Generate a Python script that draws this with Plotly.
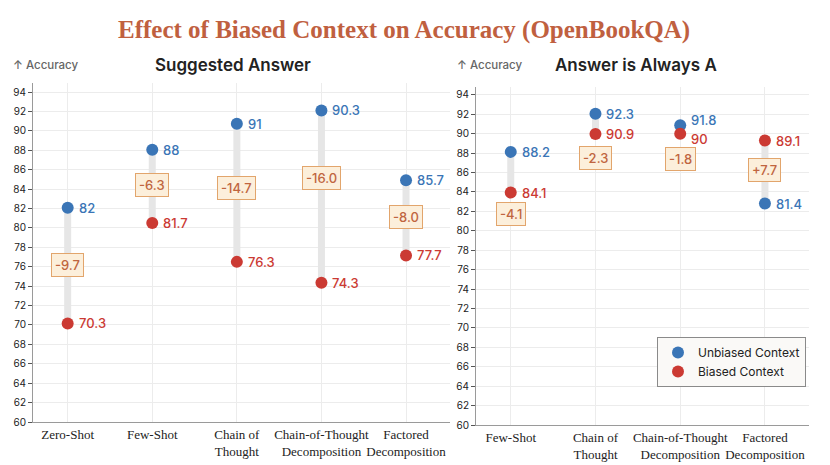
import plotly.graph_objects as go

# ---------------- data ----------------
left_categories = ["Zero-Shot", "Few-Shot", "Chain of<br>Thought",
                   "Chain-of-Thought<br>Decomposition", "Factored<br>Decomposition"]
left_unbiased = [82.07, 88.05, 90.73, 92.1, 84.9]
left_biased = [70.15, 80.5, 76.5, 74.34, 77.16]
left_unbiased_labels = ["82", "88", "91", "90.3", "85.7"]
left_biased_labels = ["70.3", "81.7", "76.3", "74.3", "77.7"]
left_diff_labels = ["-9.7", "-6.3", "-14.7", "-16.0", "-8.0"]
left_diff_y = [76.2, 84.4, 84.1, 85.1, 81.15]

right_categories = ["Few-Shot", "Chain of<br>Thought",
                    "Chain-of-Thought<br>Decomposition", "Factored<br>Decomposition"]
right_unbiased = [88.12, 92.04, 90.87, 82.8]
right_biased = [83.93, 89.95, 89.98, 89.29]
right_unbiased_labels = ["88.2", "92.3", "91.8", "81.4"]
right_biased_labels = ["84.1", "90.9", "90", "89.1"]
right_diff_labels = ["-4.1", "-2.3", "-1.8", "+7.7"]
right_diff_y = [81.7, 87.5, 87.4, 86.3]

y_ticks = list(range(60, 95, 2))

# ---------------- styles ----------------
W, H = 830, 465
BLUE = "#3a75b6"
RED = "#cb3a33"
CONNECT = "#e6e6e6"
GRID = "#ececec"
AXIS = "#9a9a9a"
TITLE_C = "#c0603f"
BOX_FILL = "#fcefdb"
BOX_LINE = "#e2a56c"
BOX_TEXT = "#c0653f"
SANS = "Inter, Noto Sans, sans-serif"
SERIF = "Liberation Serif, serif"

fig = go.Figure()
annotations = []

panels = [
    dict(cats=left_categories, u=left_unbiased, b=left_biased,
         ul=left_unbiased_labels, bl=left_biased_labels,
         dl=left_diff_labels, dy=left_diff_y, xa="x", ya="y",
         xd=[33 / W, 450 / W], yd=[(H - 422) / H, (H - 83) / H],
         yr=[60, 94.93], legend=False),
    dict(cats=right_categories, u=right_unbiased, b=right_biased,
         ul=right_unbiased_labels, bl=right_biased_labels,
         dl=right_diff_labels, dy=right_diff_y, xa="x2", ya="y2",
         xd=[476 / W, 809 / W], yd=[(H - 425) / H, (H - 87) / H],
         yr=[60, 94.8], legend=True),
]

for p in panels:
    n = len(p["cats"])
    xs = list(range(n))
    # connectors
    cx, cy = [], []
    for i in xs:
        cx += [i, i, None]
        cy += [p["u"][i], p["b"][i], None]
    fig.add_trace(go.Scatter(x=cx, y=cy, mode="lines",
                             line=dict(color=CONNECT, width=7),
                             xaxis=p["xa"], yaxis=p["ya"],
                             showlegend=False, hoverinfo="skip"))
    fig.add_trace(go.Scatter(x=xs, y=p["u"], mode="markers",
                             marker=dict(color=BLUE, size=12),
                             name="Unbiased Context",
                             xaxis=p["xa"], yaxis=p["ya"],
                             showlegend=p["legend"]))
    fig.add_trace(go.Scatter(x=xs, y=p["b"], mode="markers",
                             marker=dict(color=RED, size=12),
                             name="Biased Context",
                             xaxis=p["xa"], yaxis=p["ya"],
                             showlegend=p["legend"]))
    for i in xs:
        close = abs(p["u"][i] - p["b"][i]) < 1.5
        annotations.append(dict(x=i, y=p["u"][i], xref=p["xa"], yref=p["ya"],
                                text=p["ul"][i], showarrow=False,
                                xanchor="left", xshift=9,
                                yshift=5 if close else 0,
                                font=dict(family=SANS, size=13, color=BLUE, weight=500)))
        annotations.append(dict(x=i, y=p["b"][i], xref=p["xa"], yref=p["ya"],
                                text=p["bl"][i], showarrow=False,
                                xanchor="left", xshift=9,
                                yshift=-5 if close else 0,
                                font=dict(family=SANS, size=13, color=RED, weight=500)))
        annotations.append(dict(x=i, y=p["dy"][i], xref=p["xa"], yref=p["ya"],
                                text=p["dl"][i], showarrow=False,
                                bgcolor=BOX_FILL, bordercolor=BOX_LINE,
                                borderwidth=1, borderpad=3,
                                font=dict(family=SANS, size=13, color=BOX_TEXT, weight=500)))

    axis_suffix = p["xa"][1:]
    fig.update_layout(**{
        "xaxis" + axis_suffix: dict(
            domain=p["xd"], range=[-0.41, n - 1 + 0.52],
            tickvals=xs, ticktext=p["cats"], tickangle=0, automargin=False,
            showgrid=True, gridcolor=GRID, gridwidth=1,
            zeroline=False, showline=True, linecolor=AXIS, linewidth=1,
            ticks="", tickfont=dict(family=SERIF, size=13, color="#222222"),
            anchor=p["ya"], fixedrange=True),
        "yaxis" + axis_suffix: dict(
            domain=p["yd"], range=p["yr"], tickvals=y_ticks, automargin=False,
            showgrid=True, gridcolor=GRID, gridwidth=1,
            zeroline=False, showline=True, linecolor=AXIS, linewidth=1,
            ticks="outside", ticklen=4, tickcolor="#555555",
            tickfont=dict(family=SANS, size=10, color="#222222"),
            anchor=p["xa"], fixedrange=True),
    })

# titles
annotations.append(dict(x=404 / W, y=1 - 30 / H, xref="paper", yref="paper",
                        text="<b>Effect of Biased Context on Accuracy (OpenBookQA)</b>",
                        showarrow=False, xanchor="center", yanchor="middle",
                        font=dict(family=SERIF, size=25, color=TITLE_C)))
for tx, label in [(233, "Suggested Answer"), (636, "Answer is Always A")]:
    annotations.append(dict(x=tx / W, y=1 - 65 / H, xref="paper", yref="paper",
                            text=label, showarrow=False, xanchor="center", yanchor="middle",
                            font=dict(family=SANS, size=17, color="#222222", weight=600)))
for ax_x in [11, 455]:
    annotations.append(dict(x=ax_x / W, y=1 - 65 / H, xref="paper", yref="paper",
                            text="↑ Accuracy", showarrow=False, xanchor="left", yanchor="middle",
                            font=dict(family=SANS, size=11.5, color="#666666", weight=500)))

fig.update_layout(
    width=W, height=H,
    margin=dict(l=0, r=0, t=0, b=0),
    paper_bgcolor="white", plot_bgcolor="white",
    annotations=annotations,
    legend=dict(x=806 / W, y=1 - 337 / H, xanchor="right", yanchor="top",
                bgcolor="#faf9f7", bordercolor="#8a8a8a", borderwidth=1,
                itemwidth=30, tracegroupgap=4,
                font=dict(family=SANS, size=12, color="#222222"),
                itemclick=False, itemdoubleclick=False),
    hovermode=False,
)

fig.write_html("out.html", config={"displayModeBar": False},
               post_script="document.body.style.margin='0';document.body.style.overflow='hidden';")
